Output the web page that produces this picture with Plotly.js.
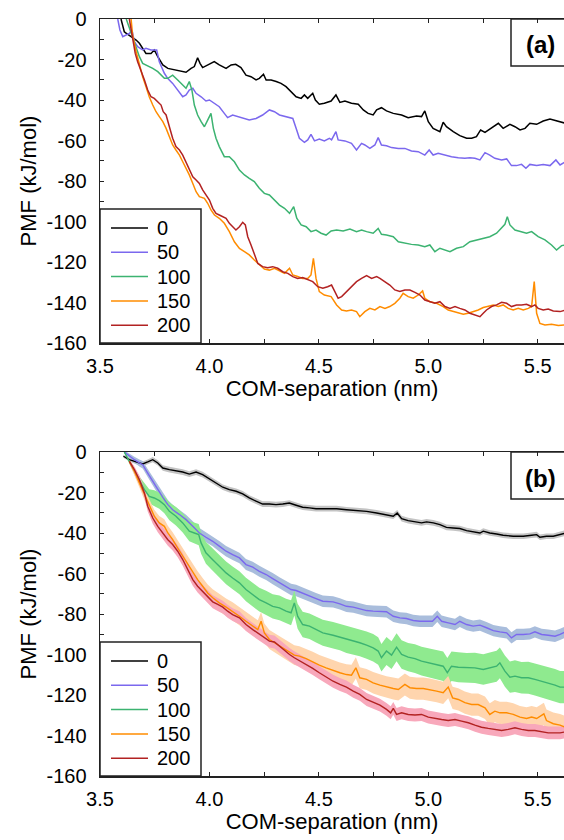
<!DOCTYPE html>
<html>
<head>
<meta charset="utf-8">
<script src="https://cdn.plot.ly/plotly-3.0.1.min.js"></script>
<style>html,body{margin:0;padding:0;background:#fff;}#chart{width:564px;height:840px;}</style>
</head>
<body>
<div id="chart"></div>
<script>
// ---------- DATA ----------
const seriesNames = ['0', '50', '100', '150', '200'];
const xTickVals = [3.5, 4.0, 4.5, 5.0, 5.5];
const xTickText = ['3.5', '4.0', '4.5', '5.0', '5.5'];
const yTickVals = [0, -20, -40, -60, -80, -100, -120, -140, -160];
const yTickText = ['0', '-20', '-40', '-60', '-80', '-100', '-120', '-140', '-160'];

// Panel (a): [COM-separation (nm), PMF (kJ/mol)]
const a0 = [[3.596,0],[3.611,-6.3],[3.619,-7],[3.642,-8.7],[3.665,-10.4],[3.68,-12],[3.695,-14.5],[3.71,-17],[3.733,-17],[3.748,-15.3],[3.764,-18.6],[3.787,-22.7],[3.81,-24.4],[3.84,-25.2],[3.87,-26],[3.893,-26.3],[3.916,-24.4],[3.931,-23.5],[3.946,-19.1],[3.957,-21.9],[3.969,-24],[3.992,-22.7],[4.022,-21],[4.045,-22.7],[4.076,-24.4],[4.099,-22.7],[4.12,-22.4],[4.144,-24],[4.167,-27.7],[4.19,-28.5],[4.213,-30.1],[4.228,-29.3],[4.247,-27.3],[4.259,-30.1],[4.282,-30.1],[4.305,-30.9],[4.327,-31.8],[4.35,-33.4],[4.373,-35.9],[4.396,-38.4],[4.419,-39.2],[4.434,-37.5],[4.449,-39.2],[4.472,-36.7],[4.484,-40],[4.502,-42.1],[4.525,-41.6],[4.556,-40.5],[4.578,-37.5],[4.596,-41.2],[4.619,-40.5],[4.649,-41.6],[4.68,-42.1],[4.703,-44.9],[4.725,-46.6],[4.748,-47.4],[4.764,-44.9],[4.786,-43.8],[4.809,-45.4],[4.84,-46.6],[4.878,-47.4],[4.908,-48.7],[4.946,-47.9],[4.969,-48.2],[4.984,-45.4],[5.0,-50.7],[5.022,-54],[5.053,-55.6],[5.068,-51],[5.083,-53.2],[5.114,-55.6],[5.144,-57.6],[5.175,-58.9],[5.198,-58.9],[5.22,-58.1],[5.239,-54.8],[5.259,-56],[5.289,-54],[5.32,-51.5],[5.342,-54],[5.373,-52],[5.396,-53.2],[5.419,-54.8],[5.442,-54],[5.464,-51.5],[5.495,-52],[5.525,-50.4],[5.556,-49.4],[5.586,-50.4],[5.627,-51.5]];
const a50 = [[3.581,0],[3.591,-5.4],[3.604,-8.7],[3.619,-7.9],[3.634,-7.1],[3.646,-5.4],[3.657,-11.2],[3.672,-13.7],[3.695,-15.3],[3.71,-14.5],[3.733,-15.3],[3.759,-15.3],[3.771,-21.1],[3.794,-26.8],[3.809,-29.3],[3.832,-31.8],[3.855,-35.1],[3.878,-38.4],[3.893,-37.5],[3.908,-35.1],[3.924,-34.2],[3.939,-36.7],[3.962,-38.4],[3.984,-40.5],[4.0,-40],[4.023,-41.6],[4.045,-43.3],[4.068,-46.6],[4.083,-48.7],[4.106,-47.4],[4.129,-48.2],[4.152,-49.1],[4.182,-49.9],[4.213,-49.1],[4.243,-47.4],[4.274,-44.9],[4.297,-45.8],[4.32,-47.4],[4.35,-48.2],[4.381,-49.1],[4.396,-54],[4.411,-58.9],[4.434,-60.9],[4.449,-59.7],[4.464,-57],[4.48,-60.2],[4.502,-59.3],[4.525,-60.2],[4.548,-58.9],[4.558,-59.7],[4.578,-55.6],[4.588,-59.7],[4.619,-60.2],[4.649,-61.4],[4.672,-64.7],[4.695,-61.4],[4.71,-62.2],[4.733,-63.9],[4.756,-62.2],[4.771,-58.6],[4.786,-62.2],[4.809,-62.6],[4.832,-63.5],[4.863,-63.9],[4.893,-63.9],[4.923,-65.2],[4.954,-65.5],[4.984,-67.2],[5.004,-64.7],[5.022,-67.2],[5.045,-66.3],[5.076,-67.2],[5.106,-68],[5.137,-68.5],[5.167,-68.8],[5.19,-68.5],[5.213,-68.8],[5.236,-69.6],[5.259,-66],[5.281,-67.2],[5.304,-68.8],[5.335,-69.6],[5.358,-69.1],[5.38,-72.4],[5.403,-72.4],[5.426,-71.8],[5.446,-73.7],[5.464,-71.8],[5.495,-72.4],[5.525,-71.8],[5.556,-72.4],[5.583,-69.6],[5.602,-72.1],[5.627,-70.5]];
const a100 = [[3.62,0],[3.646,-7.9],[3.665,-14.5],[3.68,-18.6],[3.695,-21.9],[3.718,-23],[3.741,-24.4],[3.764,-26],[3.779,-27.7],[3.794,-29.3],[3.81,-29.3],[3.832,-27.7],[3.855,-30.1],[3.878,-32.6],[3.893,-34.2],[3.908,-30.9],[3.92,-35.1],[3.931,-42.5],[3.946,-47.4],[3.962,-50.7],[3.977,-53.2],[3.992,-49.9],[4.007,-46.6],[4.018,-54],[4.03,-58.9],[4.045,-63],[4.068,-68],[4.091,-68],[4.114,-70.5],[4.137,-74.6],[4.16,-77],[4.182,-78.7],[4.205,-80.3],[4.228,-83.6],[4.251,-86.1],[4.274,-86.9],[4.297,-89.4],[4.32,-91.9],[4.343,-93.5],[4.366,-96],[4.385,-92.7],[4.399,-98.4],[4.419,-101.7],[4.442,-102.6],[4.464,-105],[4.487,-104.2],[4.51,-105.8],[4.533,-106.7],[4.556,-104.7],[4.581,-104.2],[4.611,-104.7],[4.642,-103.7],[4.672,-105],[4.695,-104.2],[4.718,-105],[4.748,-105.8],[4.771,-103.4],[4.786,-106.3],[4.809,-106.7],[4.84,-107.5],[4.863,-110],[4.893,-110.8],[4.923,-111.3],[4.954,-111.6],[4.984,-112.4],[5.007,-111.6],[5.03,-114.9],[5.053,-113.2],[5.076,-114.1],[5.099,-114.9],[5.129,-113.2],[5.16,-112.4],[5.19,-110],[5.221,-109.1],[5.251,-108.3],[5.281,-107.5],[5.312,-105.8],[5.335,-103.4],[5.35,-101.4],[5.361,-97.6],[5.373,-101.7],[5.396,-104.2],[5.426,-105.3],[5.449,-105.8],[5.472,-105],[5.502,-107.5],[5.533,-109.1],[5.563,-111.6],[5.586,-114.1],[5.609,-111.9],[5.627,-111.6]];
const a150 = [[3.642,0],[3.649,-7.9],[3.665,-16.1],[3.68,-22.7],[3.695,-28.5],[3.71,-33.4],[3.725,-38.4],[3.741,-42.5],[3.756,-45.8],[3.771,-48.2],[3.787,-50.7],[3.802,-54],[3.817,-58.1],[3.832,-62.2],[3.847,-64.7],[3.863,-67.2],[3.878,-70.5],[3.893,-73.7],[3.908,-77],[3.924,-81.2],[3.939,-85.3],[3.954,-87.7],[3.977,-88.6],[3.992,-91],[4.007,-94.3],[4.023,-96.8],[4.045,-98.4],[4.068,-100.9],[4.091,-105],[4.114,-110],[4.137,-113.3],[4.16,-114.9],[4.182,-116.5],[4.205,-119],[4.228,-121.5],[4.251,-123.5],[4.274,-124],[4.297,-123.1],[4.32,-124.4],[4.343,-125.6],[4.366,-123.1],[4.381,-126.4],[4.403,-127.2],[4.426,-128.1],[4.449,-128.1],[4.464,-126.4],[4.475,-118.2],[4.487,-128.1],[4.502,-134.6],[4.525,-136.3],[4.556,-137.1],[4.581,-141.2],[4.604,-143.7],[4.626,-144.2],[4.649,-143.7],[4.672,-144.5],[4.687,-147],[4.71,-144.5],[4.733,-142.9],[4.756,-143.7],[4.779,-142],[4.802,-142.9],[4.824,-142],[4.847,-140.4],[4.87,-137.9],[4.885,-135.5],[4.908,-137.1],[4.931,-137.9],[4.954,-136.3],[4.974,-134.3],[4.984,-137.9],[5.007,-139.6],[5.038,-140.4],[5.068,-142],[5.091,-143.7],[5.114,-144.5],[5.137,-145.3],[5.16,-145.8],[5.182,-145.3],[5.205,-144.5],[5.228,-143.7],[5.251,-142.5],[5.274,-142],[5.297,-141.2],[5.32,-142],[5.342,-141.2],[5.365,-142.9],[5.388,-143.7],[5.411,-142.9],[5.434,-143.7],[5.457,-142.9],[5.472,-142],[5.484,-129.7],[5.495,-145.3],[5.51,-150.3],[5.533,-151.1],[5.563,-150.8],[5.594,-151.4],[5.627,-151.1]];
const a200 = [[3.634,0],[3.649,-9.5],[3.661,-17],[3.672,-21.1],[3.687,-25.2],[3.703,-30.1],[3.718,-35.1],[3.733,-38.4],[3.748,-39.2],[3.764,-40.8],[3.779,-42.5],[3.789,-45.8],[3.802,-47.4],[3.817,-53.2],[3.832,-58.9],[3.847,-63],[3.863,-64.7],[3.878,-67.2],[3.893,-70.5],[3.908,-73.7],[3.924,-77.9],[3.939,-79.5],[3.954,-81.2],[3.969,-84.4],[3.984,-86.9],[4.0,-89.4],[4.015,-93.5],[4.03,-96],[4.045,-96.8],[4.061,-97.6],[4.076,-98.4],[4.091,-100.9],[4.106,-102.6],[4.121,-104.2],[4.137,-102.6],[4.152,-100.4],[4.164,-101.7],[4.175,-107.5],[4.19,-111.6],[4.205,-116.5],[4.221,-120.7],[4.243,-122.3],[4.266,-122.8],[4.289,-122.3],[4.312,-123.1],[4.335,-124.8],[4.358,-125.6],[4.381,-127.2],[4.403,-128.1],[4.426,-127.7],[4.449,-128.9],[4.472,-129.7],[4.495,-132.2],[4.518,-133],[4.54,-132.2],[4.558,-131.4],[4.573,-134.6],[4.588,-137.9],[4.604,-137.1],[4.626,-134.6],[4.649,-132.2],[4.672,-129.7],[4.695,-128.1],[4.718,-126.7],[4.741,-128.1],[4.764,-127.2],[4.779,-128.1],[4.802,-129.7],[4.824,-131.4],[4.847,-133.8],[4.87,-134.6],[4.893,-133.8],[4.916,-133.8],[4.939,-135],[4.962,-136.3],[4.984,-138.8],[5.007,-139.6],[5.03,-140.4],[5.053,-139.6],[5.076,-142],[5.099,-142.9],[5.122,-142],[5.144,-142.9],[5.167,-143.7],[5.19,-145.3],[5.213,-146.2],[5.236,-147],[5.251,-145.3],[5.266,-143.7],[5.289,-142],[5.312,-141.2],[5.335,-139.9],[5.358,-140.4],[5.38,-142],[5.403,-141.2],[5.426,-141.2],[5.449,-140.9],[5.472,-142],[5.487,-141.2],[5.502,-142.9],[5.525,-143.7],[5.548,-143.2],[5.571,-144.2],[5.602,-144.5],[5.627,-143.7]];

// Panel (b): [COM-separation (nm), mean PMF (kJ/mol), error half-width (kJ/mol)]
const b0 = [[3.607,-2.1,0.7],[3.634,-3.8,0.9],[3.665,-4.9,1.1],[3.695,-5.9,1.2],[3.718,-4.9,1.2],[3.741,-3.8,1.3],[3.764,-5.4,1.3],[3.787,-7.9,1.3],[3.817,-8.7,1.4],[3.847,-9.2,1.4],[3.878,-9.9,1.4],[3.908,-10.9,1.4],[3.939,-9.9,1.4],[3.969,-11.2,1.4],[4.0,-13.2,1.4],[4.03,-15.3,1.4],[4.061,-17.4,1.4],[4.091,-18.6,1.4],[4.122,-19.4,1.4],[4.152,-20.7,1.4],[4.182,-22.7,1.4],[4.213,-24.3,1.4],[4.243,-25.7,1.4],[4.274,-25.7,1.4],[4.304,-26,1.4],[4.335,-25.7,1.4],[4.365,-25.2,1.4],[4.396,-26.3,1.4],[4.426,-27.3,1.4],[4.457,-27.6,1.4],[4.487,-28,1.4],[4.518,-28,1.4],[4.556,-28,1.4],[4.581,-28,1.4],[4.626,-28.5,1.4],[4.672,-28.9,1.4],[4.718,-29.3,1.4],[4.764,-30.1,1.4],[4.809,-30.9,1.4],[4.84,-31.7,1.4],[4.858,-30.1,1.4],[4.878,-32.9,1.4],[4.908,-33.9,1.4],[4.939,-34.5,1.4],[4.969,-35,1.4],[4.992,-34.5,1.4],[5.023,-35,1.4],[5.053,-35.9,1.4],[5.083,-37.2,1.4],[5.114,-37.5,1.4],[5.144,-37.8,1.4],[5.175,-38.8,1.4],[5.205,-39.5,1.4],[5.236,-40,1.4],[5.251,-39.1,1.4],[5.281,-40,1.4],[5.312,-40.5,1.4],[5.342,-41.1,1.4],[5.388,-41.6,1.4],[5.434,-41.6,1.4],[5.472,-41.1,1.4],[5.495,-40.8,1.4],[5.51,-42.1,1.4],[5.54,-41.6,1.4],[5.571,-41.6,1.4],[5.602,-40.5,1.4],[5.627,-40,1.4]];
const b50 = [[3.611,0,0.8],[3.634,-2.1,1.1],[3.657,-3.8,1.4],[3.68,-5.4,1.7],[3.695,-6.3,1.9],[3.718,-10.4,2],[3.741,-14.5,2.1],[3.764,-18.6,2.2],[3.787,-22.4,2.3],[3.81,-26,2.3],[3.832,-28.5,2.4],[3.863,-30.9,2.4],[3.893,-33.4,2.4],[3.924,-36.7,2.5],[3.954,-40,2.5],[3.984,-42.1,2.5],[4.015,-44.1,2.5],[4.045,-46.5,2.6],[4.076,-49,2.6],[4.106,-50.7,2.6],[4.137,-52.3,2.6],[4.167,-55.6,2.7],[4.198,-56.9,2.7],[4.228,-58.9,2.7],[4.259,-60.5,2.7],[4.289,-62.5,2.8],[4.32,-64.6,2.8],[4.35,-66.3,2.8],[4.373,-67.9,2.8],[4.396,-68.4,2.8],[4.426,-69.6,2.8],[4.457,-71.2,2.8],[4.487,-72.4,2.8],[4.518,-73.7,2.8],[4.565,-74,2.8],[4.596,-75,2.8],[4.626,-76.2,2.8],[4.657,-76.6,2.8],[4.687,-77.3,2.8],[4.718,-78.3,2.8],[4.748,-78.6,2.8],[4.779,-78.9,2.8],[4.809,-78.9,2.8],[4.84,-81.1,2.8],[4.87,-81.9,2.8],[4.9,-82.2,2.8],[4.931,-83.2,2.8],[4.962,-83.6,2.8],[4.992,-83.6,2.8],[5.019,-83.6,2.8],[5.041,-81.1,2.8],[5.061,-83.6,2.8],[5.091,-84.4,2.8],[5.122,-85.2,2.8],[5.144,-83.6,2.8],[5.175,-85.2,2.8],[5.205,-86,2.8],[5.236,-85.5,2.8],[5.266,-86.8,2.8],[5.297,-88.2,2.8],[5.327,-88.8,2.8],[5.358,-89.3,2.8],[5.38,-91.8,2.8],[5.403,-90.1,2.8],[5.434,-90.1,2.8],[5.464,-89.8,2.8],[5.487,-88.8,2.8],[5.518,-90.1,2.8],[5.548,-90.5,2.8],[5.579,-91,2.8],[5.602,-90.1,2.8],[5.627,-88.8,2.8]];
const b100 = [[3.611,0,0.5],[3.634,-4.6,1.2],[3.657,-9.5,1.8],[3.68,-14.5,2.4],[3.703,-18.6,3],[3.725,-21.9,3.5],[3.748,-22.7,3.8],[3.771,-24,4],[3.794,-26,4.2],[3.817,-29.3,4.4],[3.847,-31.7,4.6],[3.878,-35,4.8],[3.908,-39.1,5],[3.931,-40,5.1],[3.951,-40.8,5.2],[3.962,-44.9,5.3],[3.984,-49.8,5.4],[4.007,-52.3,5.5],[4.03,-54.8,5.5],[4.053,-57.2,5.5],[4.076,-59.7,5.6],[4.106,-62.2,5.6],[4.137,-64.6,5.7],[4.167,-67.9,5.8],[4.198,-70.4,5.8],[4.228,-72.9,5.9],[4.259,-74.5,6],[4.289,-76.2,6],[4.32,-77,6.1],[4.35,-78.6,6.1],[4.373,-79.4,6.2],[4.388,-74.5,6.2],[4.403,-81.1,6.2],[4.426,-85.2,6.3],[4.457,-86,6.3],[4.487,-87.7,6.4],[4.518,-89.3,6.4],[4.565,-90.5,6.5],[4.596,-91.4,6.5],[4.626,-92.6,6.6],[4.657,-93.4,6.6],[4.687,-94.2,6.7],[4.718,-95.4,6.7],[4.748,-96.7,6.8],[4.771,-98.3,6.8],[4.786,-101.6,6.8],[4.809,-98.3,6.9],[4.832,-100.3,6.9],[4.855,-96.4,6.9],[4.878,-100,7],[4.908,-101.3,7],[4.939,-102,7.1],[4.969,-103.3,7.1],[5.0,-104.1,7.2],[5.038,-104.9,7.2],[5.068,-105.8,7.3],[5.087,-109,7.3],[5.106,-105.8,7.3],[5.137,-106.3,7.4],[5.175,-106.6,7.4],[5.213,-106.6,7.5],[5.251,-107.4,7.5],[5.281,-106.6,7.6],[5.312,-105.8,7.6],[5.327,-104.1,7.6],[5.35,-108.2,7.7],[5.373,-111.2,7.7],[5.396,-110.7,7.8],[5.426,-111.5,7.8],[5.457,-111.5,7.9],[5.487,-112.3,7.9],[5.518,-113.2,8],[5.548,-114,8],[5.579,-115.1,8],[5.602,-116.1,8],[5.627,-116.1,8]];
const b150 = [[3.634,-4.6,1],[3.657,-9.5,1.6],[3.68,-15.3,2.2],[3.703,-21.1,2.6],[3.725,-26.8,2.9],[3.748,-31.7,3.2],[3.771,-35,3.4],[3.794,-36.7,3.5],[3.81,-40,3.6],[3.832,-43.3,3.7],[3.855,-47.4,3.8],[3.878,-51.5,3.9],[3.901,-55.6,4],[3.924,-59.7,4],[3.946,-63,4.1],[3.969,-66.3,4.1],[3.992,-69.6,4.2],[4.015,-72,4.2],[4.045,-74.5,4.3],[4.076,-76.6,4.3],[4.106,-78.6,4.4],[4.137,-81.1,4.4],[4.167,-83.6,4.5],[4.198,-86,4.5],[4.221,-87.7,4.6],[4.236,-83.6,4.6],[4.251,-89.3,4.6],[4.274,-92.6,4.7],[4.297,-94.2,4.7],[4.32,-95.9,4.8],[4.343,-97.5,4.8],[4.366,-98.7,4.8],[4.388,-100.3,4.9],[4.411,-100.8,4.9],[4.442,-102,4.9],[4.472,-103.6,5],[4.502,-105.3,5],[4.533,-106.6,5],[4.565,-107.9,5.1],[4.596,-109,5.1],[4.626,-109.9,5.1],[4.649,-110.2,5.2],[4.669,-106.6,5.2],[4.687,-111.5,5.2],[4.718,-112.3,5.2],[4.748,-114,5.3],[4.779,-115.1,5.3],[4.809,-116.1,5.3],[4.84,-116.8,5.4],[4.863,-117.3,5.4],[4.893,-114.8,5.4],[4.916,-116.4,5.4],[4.946,-116.8,5.5],[4.977,-116.8,5.5],[5.007,-117.3,5.5],[5.038,-118.1,5.5],[5.068,-118.9,5.5],[5.091,-116.1,5.5],[5.111,-121.4,5.5],[5.137,-122.2,5.5],[5.167,-123.8,5.5],[5.198,-124.7,5.5],[5.228,-124.7,5.5],[5.259,-126.3,5.5],[5.281,-129.6,5.5],[5.304,-128,5.5],[5.327,-128.8,5.5],[5.358,-128.8,5.5],[5.388,-129.6,5.5],[5.419,-130.9,5.5],[5.449,-131.6,5.5],[5.472,-130.9,5.5],[5.495,-131.6,5.5],[5.528,-129.3,5.5],[5.54,-132.6,5.5],[5.571,-134.2,5.5],[5.602,-134.9,5.5],[5.627,-135.9,5.5]];
const b200 = [[3.634,-4.6,1],[3.657,-8.7,1.6],[3.68,-13.7,2.1],[3.703,-20.2,2.4],[3.718,-26.8,2.6],[3.741,-32.6,2.8],[3.764,-36.7,2.9],[3.787,-40,3],[3.81,-43.3,3],[3.832,-45.7,3],[3.855,-49,3],[3.878,-53.1,3.1],[3.901,-58.1,3.1],[3.924,-63,3.1],[3.946,-66.3,3.1],[3.969,-68.8,3.2],[3.992,-71.7,3.2],[4.015,-74,3.2],[4.038,-75.3,3.2],[4.061,-76.6,3.2],[4.083,-78.6,3.2],[4.106,-80.3,3.2],[4.137,-81.9,3.2],[4.167,-85.2,3.2],[4.198,-87.7,3.2],[4.228,-90.1,3.2],[4.251,-91.8,3.2],[4.274,-93.4,3.2],[4.297,-93.8,3.2],[4.32,-95.9,3.2],[4.343,-98,3.2],[4.366,-100,3.2],[4.388,-101.6,3.2],[4.411,-103,3.2],[4.442,-104.9,3.2],[4.472,-106.9,3.2],[4.502,-109,3.2],[4.533,-111.2,3.2],[4.565,-113.2,3.2],[4.596,-114.8,3.2],[4.626,-116.1,3.2],[4.657,-118.1,3.2],[4.687,-119.7,3.2],[4.718,-122.2,3.2],[4.748,-123.4,3.2],[4.779,-125,3.2],[4.809,-127.1,3.2],[4.828,-128.8,3.2],[4.84,-126.6,3.2],[4.855,-129.6,3.2],[4.878,-128.8,3.2],[4.908,-129.6,3.2],[4.939,-129.9,3.2],[4.969,-129.6,3.2],[5.0,-130.9,3.2],[5.03,-131.6,3.2],[5.061,-132.1,3.2],[5.091,-132.6,3.2],[5.122,-132.1,3.2],[5.152,-132.9,3.2],[5.183,-133.7,3.2],[5.213,-134.9,3.2],[5.243,-135.9,3.2],[5.274,-136.5,3.2],[5.304,-137,3.2],[5.335,-137.5,3.2],[5.365,-137,3.2],[5.396,-136.2,3.2],[5.426,-137,3.2],[5.457,-137.5,3.2],[5.487,-137.5,3.2],[5.518,-138.2,3.2],[5.548,-138.7,3.2],[5.579,-138.7,3.2],[5.602,-138.7,3.2],[5.627,-138.2,3.2]];

// ---------- STYLE ----------
const FONT = 'Liberation Sans, Arial, Helvetica, sans-serif';
const lineColors = ['#000000', '#7b68ee', '#3cb371', '#ff8c00', '#b22222'];
const bandColors = ['#c4c4c4', '#a9bddc', '#8fea8f', '#ffd5ae', '#f8a8bb'];
const panelA = [a0, a50, a100, a150, a200];
const panelB = [b0, b50, b100, b150, b200];

// page geometry (px)
const W = 564, H = 840;
const M = {l: 100, r: 0, t: 19, b: 64};
const plotW = W - M.l - M.r, plotH = H - M.t - M.b;
const px2x = px => (px - M.l) / plotW;
const py2y = py => (H - M.b - py) / plotH;
const domA = [py2y(343), 1];
const domB = [0, py2y(452)];

const traces = [];
panelA.forEach((d, i) => {
  traces.push({
    type: 'scatter', mode: 'lines', xaxis: 'x', yaxis: 'y', showlegend: false,
    name: seriesNames[i], x: d.map(p => p[0]), y: d.map(p => p[1]),
    line: {color: lineColors[i], width: 1.5}, hoverinfo: 'skip'
  });
});
panelB.forEach((d, i) => {
  const xs = d.map(p => p[0]);
  traces.push({
    type: 'scatter', mode: 'lines', xaxis: 'x2', yaxis: 'y2', showlegend: false,
    x: xs, y: d.map(p => p[1] + p[2]), line: {width: 0, color: bandColors[i]}, hoverinfo: 'skip'
  });
  traces.push({
    type: 'scatter', mode: 'lines', xaxis: 'x2', yaxis: 'y2', showlegend: false,
    x: xs, y: d.map(p => p[1] - p[2]), line: {width: 0, color: bandColors[i]},
    fill: 'tonexty', fillcolor: bandColors[i], hoverinfo: 'skip'
  });
});
panelB.forEach((d, i) => {
  traces.push({
    type: 'scatter', mode: 'lines', xaxis: 'x2', yaxis: 'y2', showlegend: false,
    name: seriesNames[i], x: d.map(p => p[0]), y: d.map(p => p[1]),
    line: {color: lineColors[i], width: 1.4}, hoverinfo: 'skip'
  });
});

const axisCommon = {
  showline: true, linecolor: '#222', linewidth: 1.5, showgrid: false, zeroline: false,
  ticks: 'inside', ticklen: 4, tickwidth: 1, tickcolor: '#222',
  tickfont: {family: FONT, size: 20, color: '#000'}
};
function xAxis(anchor) {
  return Object.assign({}, axisCommon, {
    anchor: anchor, range: [3.5, 5.62], mirror: 'ticks',
    tickmode: 'array', tickvals: xTickVals, ticktext: xTickText,
    minor: {tickmode: 'linear', tick0: 3.5, dtick: 0.25, ticks: 'inside', ticklen: 4, tickcolor: '#222'},
    ticklabelstandoff: 4,
    title: {text: 'COM-separation (nm)', font: {family: FONT, size: 22, color: '#000'}, standoff: 5}
  });
}
function yAxis(anchor, domain) {
  return Object.assign({}, axisCommon, {
    anchor: anchor, domain: domain, range: [-160, 0], mirror: false,
    tickmode: 'array', tickvals: yTickVals, ticktext: yTickText,
    minor: {tickmode: 'linear', tick0: 0, dtick: 10, ticks: 'inside', ticklen: 4, tickcolor: '#222'},
    ticklabelstandoff: 8,
    title: {text: 'PMF (kJ/mol)', font: {family: FONT, size: 22, color: '#000'}, standoff: 4}
  });
}

// legend boxes, drawn per panel (box, line samples, labels)
const shapes = [];
const annotations = [];
const panelTops = [19, 452];
const legendBoxTopOffset = 190, legendBoxRight = 201, legendRowTop = 209, legendRowStep = 24.3;
panelTops.forEach((top, p) => {
  const bottom = top + 324;
  shapes.push({type: 'rect', xref: 'paper', yref: 'paper', layer: 'above',
    x0: px2x(M.l), x1: px2x(legendBoxRight), y0: py2y(bottom), y1: py2y(top + legendBoxTopOffset),
    line: {color: '#222', width: 1.5}, fillcolor: '#ffffff'});
  seriesNames.forEach((nm, i) => {
    const yy = py2y(top + legendBoxTopOffset + 19 + i * legendRowStep);
    shapes.push({type: 'line', xref: 'paper', yref: 'paper', layer: 'above',
      x0: px2x(111), x1: px2x(148), y0: yy, y1: yy, line: {color: lineColors[i], width: 1.5}});
    annotations.push({xref: 'paper', yref: 'paper', x: px2x(155), y: yy, text: nm, showarrow: false,
      xanchor: 'left', yanchor: 'middle', font: {family: FONT, size: 20, color: '#000'}});
  });
  // panel label box
  shapes.push({type: 'rect', xref: 'paper', yref: 'paper', layer: 'above',
    x0: px2x(511), x1: px2x(620), y0: py2y(top + 47), y1: py2y(top),
    line: {color: '#222', width: 1.5}, fillcolor: 'rgba(0,0,0,0)'});
  annotations.push({xref: 'paper', yref: 'paper', x: px2x(540), y: py2y(top + 26),
    text: p === 0 ? '<b>(a)</b>' : '<b>(b)</b>', showarrow: false, xanchor: 'center', yanchor: 'middle',
    font: {family: FONT, size: 24, color: '#000'}});
});

const layout = {
  width: W, height: H,
  margin: M,
  paper_bgcolor: '#fff', plot_bgcolor: '#fff',
  font: {family: FONT, color: '#000'},
  showlegend: false,
  xaxis: xAxis('y'),
  yaxis: yAxis('x', domA),
  xaxis2: xAxis('y2'),
  yaxis2: yAxis('x2', domB),
  shapes: shapes,
  annotations: annotations
};

Plotly.newPlot('chart', traces, layout, {staticPlot: true, displayModeBar: false});
</script>
</body>
</html>
